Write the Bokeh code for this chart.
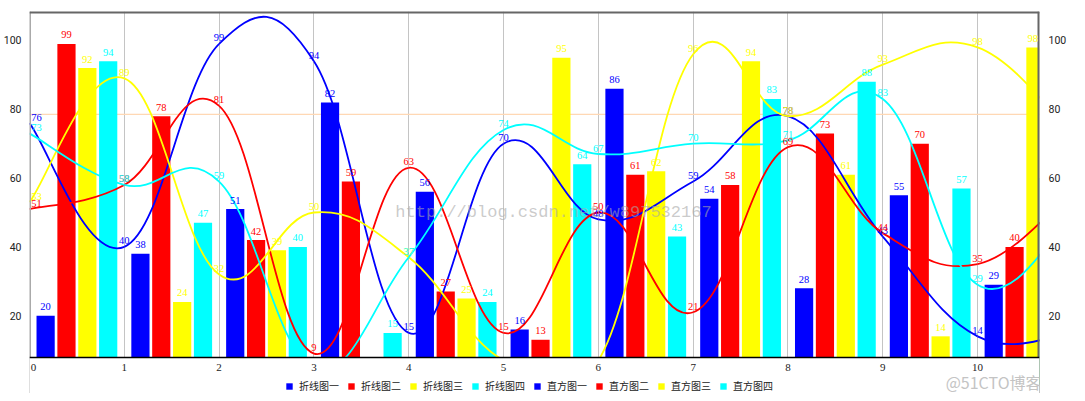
from bokeh.plotting import figure
from bokeh.models import (Range1d, LinearAxis, FixedTicker, Span, LabelSet, BoxAnnotation,
                          ColumnDataSource, Legend, LegendItem, Label)
from bokeh.embed import file_html
from bokeh.resources import INLINE

# ---------------- data ----------------
line_x = list(range(12))
line_1 = [76, 40, 99, 94, 15, 70, 48, 59, 78, 43, 14, 15]   # 折线图一
line_2 = [51, 58, 81, 9, 63, 15, 50, 21, 69, 44, 35, 56]    # 折线图二
line_3 = [53, 89, 32, 50, 37, 7, 7, 96, 78, 93, 98, 73]     # 折线图三
line_4 = [73, 58, 59, 5, 37, 74, 67, 70, 71, 83, 29, 49]    # 折线图四

bar_x = list(range(11))
bar_1 = [20, 38, 51, 82, 56, 16, 86, 54, 28, 55, 29]        # 直方图一
bar_2 = [99, 78, 42, 59, 27, 13, 61, 58, 73, 70, 40]        # 直方图二
bar_3 = [92, 24, 39, 3, 25, 95, 62, 94, 61, 14, 98]         # 直方图三
bar_4 = [94, 47, 40, 15, 24, 64, 43, 83, 88, 57, 60]        # 直方图四

line_names = ["折线图一", "折线图二", "折线图三", "折线图四"]
bar_names = ["直方图一", "直方图二", "直方图三", "直方图四"]
colors = ["#0000FF", "#FF0000", "#FFFF00", "#00FFFF"]
x_ticks = list(range(11))
x_tick_labels = [str(t) for t in x_ticks]
y_ticks = [20, 40, 60, 80, 100]
limit_value = 78.5

# ---------------- geometry ----------------
X_MIN, X_MAX = 0.0, 10.653
Y_AXIS, Y_MAX = 7.85, 108.43      # visible value axis: baseline .. top
Y_LOW = -2.62                     # frame continues below the baseline (legend area)
BAR_W, BAR_SPACE, GROUP_SPACE = 0.2, 0.02, 0.12
INTENSITY = 0.2
FONT = "Roboto"
W, H = 1069, 393
B_LEFT, B_RIGHT, B_TOP = 20, 21, 11
FRAME_W = W - B_LEFT - B_RIGHT
LABEL_PX = 10.5

p = figure(width=W, height=H, output_backend="svg", toolbar_location=None,
           x_range=Range1d(X_MIN, X_MAX), y_range=Range1d(Y_LOW, Y_MAX),
           min_border_left=B_LEFT, min_border_right=B_RIGHT, min_border_top=B_TOP,
           min_border_bottom=0, background_fill_color="white",
           border_fill_color="white")
p.outline_line_color = None
p.xaxis.visible = False

# left y axis
p.yaxis.ticker = FixedTicker(ticks=y_ticks)
p.yaxis.major_tick_line_color = None
p.yaxis.minor_tick_line_color = None
p.yaxis.axis_line_color = None
p.yaxis.major_label_text_font = FONT
p.yaxis.major_label_text_font_size = "10.5px"
p.yaxis.major_label_text_color = "#222222"
p.yaxis.major_label_standoff = 2

# right y axis
ry = LinearAxis(ticker=FixedTicker(ticks=y_ticks))
ry.major_tick_line_color = None
ry.minor_tick_line_color = None
ry.axis_line_color = None
ry.major_label_text_font = FONT
ry.major_label_text_font_size = "10.5px"
ry.major_label_text_color = "#222222"
ry.major_label_standoff = 3
p.add_layout(ry, "right")

p.xgrid.ticker = FixedTicker(ticks=x_ticks)
p.xgrid.grid_line_color = "#c4c4c4"
p.xgrid.grid_line_width = 1
p.ygrid.grid_line_color = None

p.add_layout(Span(location=limit_value, dimension="width", line_color="#FFD8B4",
                  line_width=1.2, level="underlay"))


def edge_offsets(xs, texts, px_size):
    """shift labels that would be cut by the frame edge back inside it"""
    scale = FRAME_W / (X_MAX - X_MIN)
    out = []
    for xv, t in zip(xs, texts):
        px = (xv - X_MIN) * scale
        hw = 0.56 * px_size * len(t) / 2 + 1
        off = 0.0
        if px - hw < 0:
            off = hw - px
        elif px + hw > FRAME_W:
            off = FRAME_W - (px + hw)
        out.append(off)
    return out


def label_source(xs, vals):
    keep = [i for i in range(len(xs)) if X_MIN <= xs[i] <= X_MAX and Y_AXIS <= vals[i] <= Y_MAX]
    kx = [xs[i] for i in keep]
    kt = [str(vals[i]) for i in keep]
    return ColumnDataSource(dict(x=kx, y=[vals[i] for i in keep], t=kt,
                                 dx=edge_offsets(kx, kt, LABEL_PX)))


# ---------------- bars ----------------
bar_series = [bar_1, bar_2, bar_3, bar_4]
bar_renderers = []
bar_label_sources = []
for k, vals in enumerate(bar_series):
    offset = GROUP_SPACE / 2 + BAR_SPACE / 2 + BAR_W / 2 + k * (BAR_W + BAR_SPACE)
    xs = [g + offset for g in bar_x]
    src = ColumnDataSource(dict(x=xs, top=vals))
    r = p.vbar(x="x", top="top", bottom=0, width=BAR_W * 0.96, source=src,
               fill_color=colors[k], line_color=None)
    bar_renderers.append(r)
    bar_label_sources.append(label_source(xs, vals))


# ---------------- cubic lines (MPAndroidChart style) ----------------
def cubic_segments(xs, ys, intensity):
    d = dict(x0=[], y0=[], x1=[], y1=[], cx0=[], cy0=[], cx1=[], cy1=[])
    n = len(xs)
    for j in range(1, n):
        pv = j - 1
        pp = max(j - 2, 0)
        nx = min(j + 1, n - 1)
        d["x0"].append(xs[pv]); d["y0"].append(ys[pv])
        d["x1"].append(xs[j]); d["y1"].append(ys[j])
        d["cx0"].append(xs[pv] + (xs[j] - xs[pp]) * intensity)
        d["cy0"].append(ys[pv] + (ys[j] - ys[pp]) * intensity)
        d["cx1"].append(xs[j] - (xs[nx] - xs[pv]) * intensity)
        d["cy1"].append(ys[j] - (ys[nx] - ys[pv]) * intensity)
    return d


line_series = [line_1, line_2, line_3, line_4]
for k, vals in enumerate(line_series):
    src = ColumnDataSource(cubic_segments(line_x, vals, INTENSITY))
    p.bezier(x0="x0", y0="y0", x1="x1", y1="y1", cx0="cx0", cy0="cy0",
             cx1="cx1", cy1="cy1", source=src, line_color=colors[k], line_width=1.8)

# ---------------- frame borders, then mask below the value axis ----------------
p.add_layout(Span(location=X_MIN, dimension="height", line_color="#aaaaaa", line_width=3))
p.add_layout(Span(location=X_MAX, dimension="height", line_color="#666666", line_width=4))
p.add_layout(Span(location=Y_MAX, dimension="width", line_color="#666666", line_width=4))
p.add_layout(BoxAnnotation(top=Y_AXIS, fill_color="white", fill_alpha=1.0,
                           line_color=None))
p.add_layout(Span(location=Y_AXIS, dimension="width", line_color="black", line_width=1.5))

# x tick labels at the value-axis baseline
p.add_layout(LabelSet(x="x", y="y", text="t", y_offset=-10.5, x_offset="dx",
                      source=ColumnDataSource(dict(
                          x=x_ticks, y=[Y_AXIS] * len(x_ticks), t=x_tick_labels,
                          dx=edge_offsets(x_ticks, x_tick_labels, 11))),
                      text_align="center", text_baseline="middle", text_font=FONT,
                      text_font_size="11px", text_color="#222222"))

# ---------------- value labels ----------------
for k in range(4):
    p.add_layout(LabelSet(x="x", y="y", text="t", source=bar_label_sources[k],
                          x_offset="dx", y_offset=9,
                          text_align="center", text_baseline="middle",
                          text_font=FONT, text_font_size=f"{LABEL_PX}px",
                          text_color=colors[k]))
for k, vals in enumerate(line_series):
    p.add_layout(LabelSet(x="x", y="y", text="t", source=label_source(line_x, vals),
                          x_offset="dx", y_offset=6,
                          text_align="center", text_baseline="middle",
                          text_font=FONT, text_font_size=f"{LABEL_PX}px",
                          text_color=colors[k]))

# ---------------- watermarks ----------------
p.add_layout(Label(x=524, y=145 + 36, x_units="screen", y_units="screen",
                   text="http://blog.csdn.net/w897532167", text_align="center",
                   text_baseline="middle", text_font="Liberation Mono",
                   text_font_size="17px", text_color="#a8a8a8", text_alpha=0.6))
p.add_layout(Label(x=FRAME_W - 16, y=11.5, x_units="screen", y_units="screen",
                   text="@51CTO博客", text_align="right", text_baseline="middle",
                   text_font="Noto Sans CJK SC", text_font_size="16px",
                   text_color="#c4c4c4"))

# ---------------- legend ----------------
items = [LegendItem(label=line_names[k], renderers=[bar_renderers[k]]) for k in range(4)]
items += [LegendItem(label=bar_names[k], renderers=[bar_renderers[k]]) for k in range(4)]
legend = Legend(items=items, orientation="horizontal", location=(256, 0),
                glyph_width=8, glyph_height=8, label_standoff=6, spacing=8,
                padding=0, margin=0, label_height=10, label_width=0,
                border_line_color=None, background_fill_alpha=0,
                label_text_font="Noto Sans CJK SC", label_text_font_size="10px",
                label_text_color="#222222")
p.add_layout(legend)

open("out.html", "w").write(file_html(p, INLINE))
